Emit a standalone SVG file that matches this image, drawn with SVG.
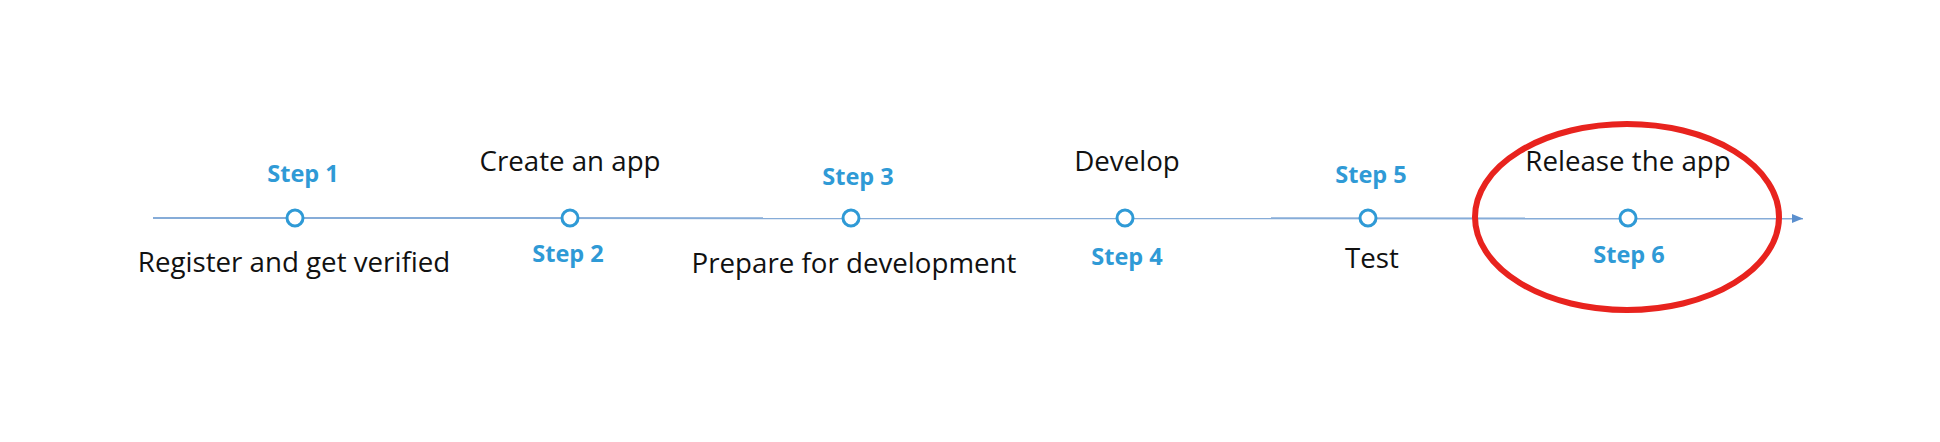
<svg xmlns="http://www.w3.org/2000/svg" width="1940" height="442" viewBox="0 0 1940 442">
<style>
.lbl{font-family:"Open Sans","Liberation Sans",sans-serif;font-size:27.7px;fill:#111;text-anchor:middle}
.stp{font-family:"Open Sans","Liberation Sans",sans-serif;font-size:23.5px;font-weight:bold;fill:#2f9ad6;text-anchor:middle}
.dot{fill:#fff;stroke:#2f9ad6;stroke-width:3}
</style>
<defs>
<marker id="arr" markerWidth="12" markerHeight="10" refX="11" refY="5" orient="auto" markerUnits="userSpaceOnUse">
<path d="M0,0.5 L11,5 L0,9.5 Z" fill="#5b8fce"/>
</marker>
</defs>
<rect width="1940" height="442" fill="#fff"/>
<g id="connectors">
<line x1="153" y1="218" x2="1803" y2="218.5" stroke="#86acd8" stroke-width="2" marker-end="url(#arr)"/>
</g>
<g id="step1">
<circle class="dot" cx="295" cy="218" r="8"/>
<text class="stp" x="303" y="182">Step 1</text>
<text class="lbl" x="294" y="272">Register and get verified</text>
</g>
<g id="step2">
<circle class="dot" cx="570" cy="218" r="8"/>
<text class="lbl" x="570" y="171">Create an app</text>
<text class="stp" x="568" y="262">Step 2</text>
</g>
<g id="step3">
<circle class="dot" cx="851" cy="218" r="8"/>
<text class="stp" x="858" y="185">Step 3</text>
<text class="lbl" x="854" y="273">Prepare for development</text>
</g>
<g id="step4">
<circle class="dot" cx="1125" cy="218" r="8"/>
<text class="lbl" x="1127" y="171">Develop</text>
<text class="stp" x="1127" y="265">Step 4</text>
</g>
<g id="step5">
<circle class="dot" cx="1368" cy="218" r="8"/>
<text class="stp" x="1371" y="183">Step 5</text>
<text class="lbl" x="1372" y="268">Test</text>
</g>
<g id="step6">
<circle class="dot" cx="1628" cy="218" r="8"/>
<text class="lbl" x="1628" y="171">Release the app</text>
<text class="stp" x="1629" y="263">Step 6</text>
</g>
<g id="highlight">
<ellipse cx="1627" cy="217" rx="152" ry="93" fill="none" stroke="#e8231e" stroke-width="6"/>
</g>
</svg>
